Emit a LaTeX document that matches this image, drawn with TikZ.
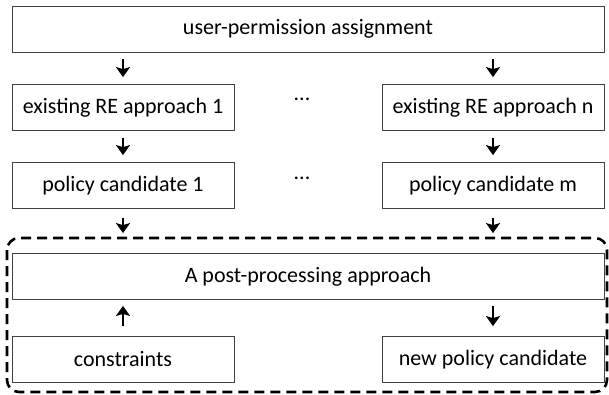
\documentclass[tikz,border=0pt]{standalone}
\usepackage{fontspec}
\setmainfont{Carlito}
\usetikzlibrary{arrows.meta}

\begin{document}
\begin{tikzpicture}[x=1pt,y=-1pt]
                            \useasboundingbox (0,0) rectangle (609,394);
                            \begin{scope}[every node/.style={draw=black!75,line width=0.8pt,minimum height=46pt,inner sep=0pt,font=\fontsize{22}{26}\selectfont}]
                                \node[minimum width=592pt] (upa) at (308,29) {user-permission assignment};
                                \node[minimum width=222pt] (re1) at (123,107.5) {existing RE approach 1};
                                \node[minimum width=222pt] (ren) at (493,107.5) {existing RE approach n};
                                \node[minimum width=222pt] (pc1) at (123,185.5) {policy candidate 1};
                                \node[minimum width=222pt] (pcm) at (493,185.5) {policy candidate m};
                                \node[minimum width=592pt] (post) at (308,276.5) {A post-processing approach};
                                \node[minimum width=222pt] (cons) at (123,359.5) {constraints};
                                \node[minimum width=222pt] (newpc) at (493,359.5) {new policy candidate};
                            \end{scope}
                            \begin{scope}[every node/.style={anchor=base,font=\fontsize{22}{26}\selectfont}]
                                \node (dots1) at (302,100) {...};
                                \node (dots2) at (302,179) {...};
                            \end{scope}
                            \begin{scope}[every edge/.style={draw=black,line width=2.8pt,-{Stealth[length=10pt,width=14pt,inset=2pt]},shorten <=7pt,shorten >=7pt}]
                                \draw (upa.south -| re1.north) edge (re1.north);
                                \draw (upa.south -| ren.north) edge (ren.north);
                                \draw (re1) edge (pc1);
                                \draw (ren) edge (pcm);
                                \draw (pc1) edge[shorten <=9pt,shorten >=20pt] (post.north -| pc1.south);
                                \draw (pcm) edge[shorten <=9pt,shorten >=20pt] (post.north -| pcm.south);
                                \draw (cons) edge[shorten <=10pt,shorten >=6pt] (post.south -| cons.north);
                                \draw (post.south -| newpc.north) edge[shorten <=6pt,shorten >=10pt] (newpc);
                            \end{scope}
                            \draw[line width=2.6pt,dash pattern=on 10pt off 6pt,rounded corners=12pt] (7,238) rectangle (607,392);
                        \end{tikzpicture}
\end{document}
